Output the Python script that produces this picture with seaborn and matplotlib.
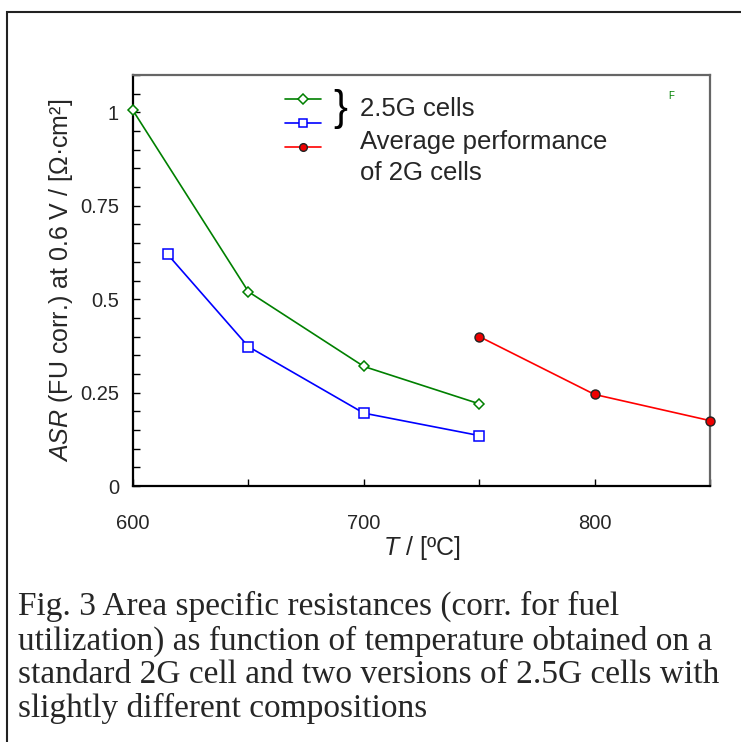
import numpy as np
import pandas as pd
import matplotlib.pyplot as plt
import seaborn as sns
from matplotlib.patches import Rectangle
from matplotlib.ticker import MultipleLocator

# 2.5G cells, version A (green diamonds)
t_green = [600, 650, 700, 750]
asr_green = [1.005, 0.52, 0.32, 0.22]
# 2.5G cells, version B (blue squares)
t_blue = [615, 650, 700, 750]
asr_blue = [0.62, 0.373, 0.195, 0.135]
# average of 2G cells (red circles)
t_red = [750, 800, 850]
asr_red = [0.40, 0.245, 0.175]

x_ticks = [600, 700, 800]
y_ticks = [0, 0.25, 0.5, 0.75, 1]
y_ticklabels = ["0", "0.25", "0.5", "0.75", "1"]

caption = ("Fig. 3 Area specific resistances (corr. for fuel\n"
           "utilization) as function of temperature obtained on a\n"
           "standard 2G cell and two versions of 2.5G cells with\n"
           "slightly different compositions")

sns.set_theme(style="white")
plt.rcParams["font.family"] = ["Liberation Sans", "DejaVu Sans"]
plt.rcParams["mathtext.fontset"] = "custom"
plt.rcParams["mathtext.rm"] = "Liberation Sans"
plt.rcParams["mathtext.it"] = "Liberation Sans:italic"

df = pd.concat([
    pd.DataFrame({"T": t_green, "ASR": asr_green, "series": "green"}),
    pd.DataFrame({"T": t_blue, "ASR": asr_blue, "series": "blue"}),
    pd.DataFrame({"T": t_red, "ASR": asr_red, "series": "red"}),
])

fig = plt.figure(figsize=(7.41, 7.42), dpi=100)
ax = fig.add_axes([133 / 741, 1 - 486 / 742, (710 - 133) / 741, (486 - 75) / 742])

styles = {
    "green": dict(color="#008000", marker="D", mfc="white", mec="#008000", ms=5.5, mew=1.1),
    "blue": dict(color="#0000ff", marker="s", mfc="white", mec="#0000ff", ms=6.5, mew=1.1),
    "red": dict(color="#ff0000", marker="o", mfc="#ee0000", mec="#222222", ms=6.5, mew=1.0),
}
handles = []
for name, st in styles.items():
    sub = df[df["series"] == name]
    sns.lineplot(data=sub, x="T", y="ASR", ax=ax, color=st["color"], lw=1.2,
                 marker=st["marker"], markersize=st["ms"], markerfacecolor=st["mfc"],
                 markeredgecolor=st["mec"], markeredgewidth=st["mew"],
                 clip_on=False, zorder=3)
    handles.append(ax.lines[-1])

ax.set_xlim(600, 850)
ax.set_ylim(0, 1.1)
ax.set_xticks(x_ticks)
ax.xaxis.set_minor_locator(MultipleLocator(50))
ax.set_yticks(y_ticks)
ax.set_yticklabels(y_ticklabels)
ax.yaxis.set_minor_locator(MultipleLocator(0.05))
ax.tick_params(axis="both", which="both", direction="in", length=5, width=1.0,
               color="black", labelsize=14.5)
ax.tick_params(axis="x", which="both", pad=20, top=False, bottom=True)
ax.tick_params(axis="y", which="both", pad=10, left=True, right=False)

for side in ["left", "bottom"]:
    ax.spines[side].set_color("black")
    ax.spines[side].set_linewidth(1.6)
for side in ["top", "right"]:
    ax.spines[side].set_color("#666666")
    ax.spines[side].set_linewidth(1.6)

ax.set_xlabel("$T$ / [ºC]", fontsize=18, labelpad=1)
ax.set_ylabel("$ASR$ (FU corr.) at 0.6 V / [Ω·cm²]", fontsize=18, labelpad=4)

leg = ax.legend(handles=handles, labels=[" ", " ", " "], loc="upper left",
                bbox_to_anchor=(145 / 577, 1.0 - 11 / 411), frameon=False,
                fontsize=12, handlelength=2.2, labelspacing=0.55, borderaxespad=0,
                handletextpad=0.2, markerscale=0.85)

# legend texts and brace
fig.text(333 / 741, 1 - 109 / 742, "}", fontsize=30, va="center", ha="left",
         fontweight="light", color="black")
fig.text(360 / 741, 1 - 109 / 742, "2.5G cells", fontsize=18.5, va="center", ha="left")
fig.text(360 / 741, 1 - 130 / 742, "Average performance\nof 2G cells", fontsize=18.5,
         va="top", ha="left", linespacing=1.35)
fig.text(668 / 741, 1 - 96 / 742, "F", fontsize=7, color="#008000", va="center")

# outer frame and caption
fig.patches.append(Rectangle((7 / 741, -0.05), 1.2, 1 - 12 / 742 + 0.05,
                             transform=fig.transFigure, fill=False,
                             edgecolor="#222222", lw=1.5))
fig.text(18 / 741, 1 - 591 / 742, caption, fontsize=24, va="top", ha="left",
         family=["Liberation Serif", "DejaVu Serif"], linespacing=1.13)

fig.savefig("out.png", dpi=100)
